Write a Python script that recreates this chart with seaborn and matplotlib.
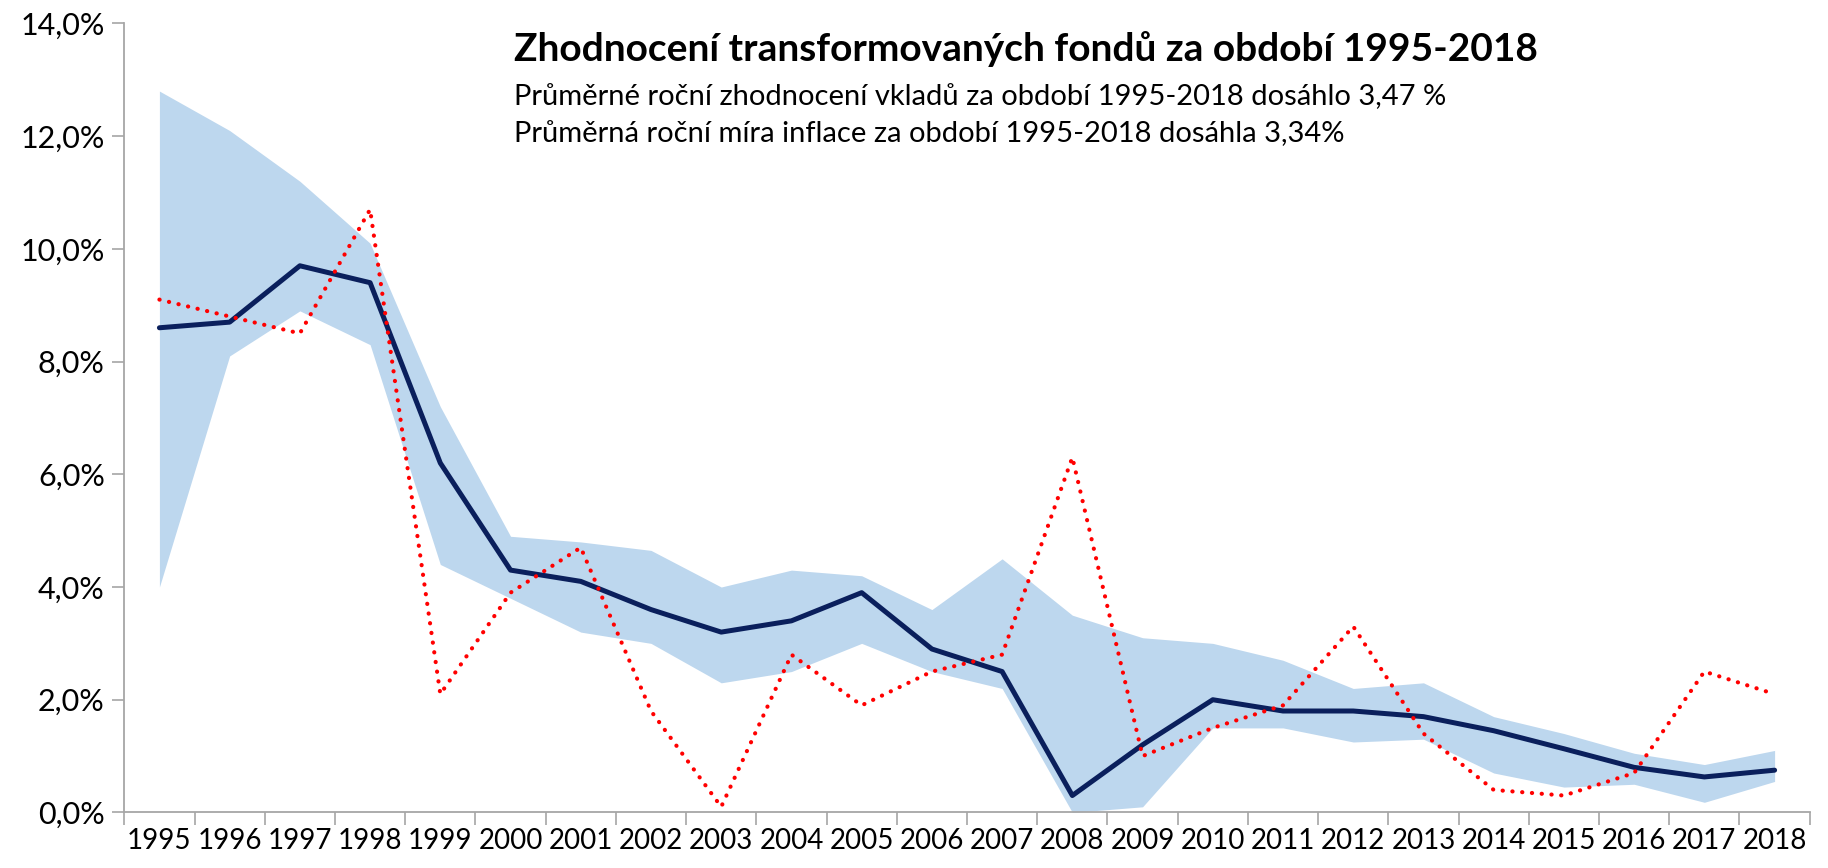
import numpy as np
import pandas as pd
import matplotlib
matplotlib.use("Agg")
import matplotlib.pyplot as plt
from matplotlib.ticker import FuncFormatter, FixedLocator
import seaborn as sns

# data (percent)
years = list(range(1995, 2019))
fund_return = [8.6, 8.7, 9.7, 9.4, 6.2, 4.3, 4.1, 3.6, 3.2, 3.4, 3.9, 2.9,
               2.5, 0.3, 1.2, 2.0, 1.8, 1.8, 1.7, 1.45, 1.13, 0.8, 0.63, 0.75]
inflation = [9.1, 8.8, 8.5, 10.7, 2.1, 3.9, 4.7, 1.8, 0.1, 2.8, 1.9, 2.5,
             2.8, 6.3, 1.0, 1.5, 1.9, 3.3, 1.4, 0.4, 0.3, 0.7, 2.5, 2.1]
band_high = [12.8, 12.1, 11.2, 10.1, 7.2, 4.9, 4.8, 4.65, 4.0, 4.3, 4.2, 3.6,
             4.5, 3.5, 3.1, 3.0, 2.7, 2.2, 2.3, 1.7, 1.4, 1.05, 0.85, 1.1]
band_low = [4.0, 8.1, 8.9, 8.3, 4.4, 3.8, 3.2, 3.0, 2.3, 2.5, 3.0, 2.5,
            2.2, 0.0, 0.1, 1.5, 1.5, 1.25, 1.3, 0.7, 0.45, 0.5, 0.18, 0.55]

title = "Zhodnocení transformovaných fondů za období 1995-2018"
line1 = "Průměrné roční zhodnocení vkladů za období 1995-2018 dosáhlo 3,47 %"
line2 = "Průměrná roční míra inflace za období 1995-2018 dosáhla 3,34%"

df = pd.DataFrame({"pos": np.arange(len(years)), "fund": fund_return,
                   "infl": inflation, "hi": band_high, "lo": band_low})

sns.set_theme(style="white")
plt.rcParams['font.family'] = ['Lato', 'DejaVu Sans']
plt.rcParams['text.color'] = 'black'
plt.rcParams['xtick.labelcolor'] = 'black'
plt.rcParams['ytick.labelcolor'] = 'black'

fig = plt.figure(figsize=(18.28, 8.68), dpi=100)
ax = fig.add_axes([0.068, 0.064, 0.922, 0.909])

# range of fund returns as a shaded band
ax.fill_between(df["pos"], df["lo"], df["hi"], color="#BDD7EE", linewidth=0)
sns.lineplot(data=df, x="pos", y="fund", ax=ax, color="#0A1F5C", linewidth=3.6)
sns.lineplot(data=df, x="pos", y="infl", ax=ax, color="#FF0000", linewidth=3.0,
             linestyle=(0, (0.05, 2.3)), dash_capstyle="round")

ax.set_xlim(-0.5, len(years) - 0.5)
ax.set_ylim(0, 14)
ax.set_yticks(np.arange(0, 15, 2))
ax.yaxis.set_major_formatter(FuncFormatter(lambda v, p: f"{v:.1f}%".replace(".", ",")))
ax.set_xticks(df["pos"])
ax.set_xticklabels([str(y) for y in years])
ax.xaxis.set_minor_locator(FixedLocator(np.arange(-0.5, len(years), 1.0)))
ax.tick_params(axis="x", which="major", length=0, pad=11, labelsize=20, labelcolor="black")
ax.tick_params(axis="x", which="minor", length=9, width=1.2, color="#A6A6A6", bottom=True)
ax.tick_params(axis="y", which="major", length=9, width=1.2, color="#A6A6A6", left=True,
               labelsize=22, pad=5, labelcolor="black")
ax.set_xlabel("")
ax.set_ylabel("")
for s in ["top", "right"]:
    ax.spines[s].set_visible(False)
for s in ["left", "bottom"]:
    ax.spines[s].set_color("#A6A6A6")
    ax.spines[s].set_linewidth(1.3)

fig.text(0.281, 0.944, title, fontsize=28, fontweight="bold", va="center", ha="left", color="black")
fig.text(0.281, 0.888, line1, fontsize=21, va="center", ha="left", color="black")
fig.text(0.281, 0.845, line2, fontsize=21, va="center", ha="left", color="black")

fig.savefig("out.png", dpi=100)
